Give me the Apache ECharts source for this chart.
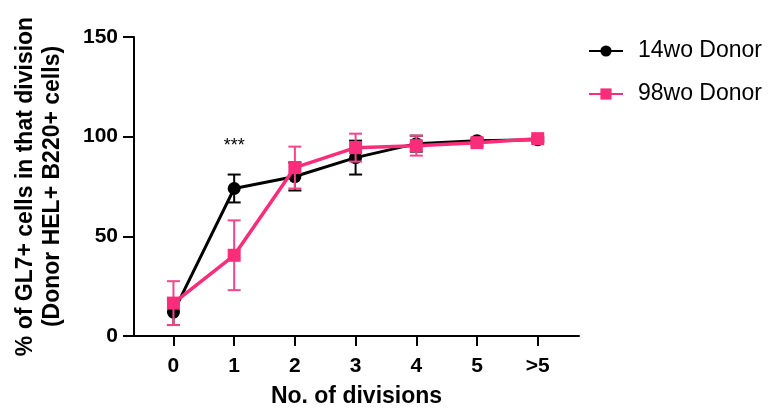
<!DOCTYPE html>
<html>
<head>
<meta charset="utf-8">
<script src="https://cdn.jsdelivr.net/npm/echarts@6/dist/echarts.min.js"></script>
<style>
  html, body { margin: 0; padding: 0; background: #fff; }
  #chart { width: 769px; height: 416px; }
</style>
</head>
<body>
<div id="chart"></div>
<script>
// tick labels on the x axis (number of divisions)
var categories = ['0', '1', '2', '3', '4', '5', '>5'];
// mean and error (SEM)
var donor14Mean = [12, 74, 80, 89.5, 96.5, 98, 98.5];
var donor14Err = [6.5, 7, 7, 8.5, 4, 1, 1];
var donor98Mean = [16.5, 40.5, 84.5, 94.5, 95.5, 97, 99];
var donor98Err = [11, 17.5, 10.5, 7, 5, 1.5, 1];
var yTicks = [0, 50, 100, 150];

var FONT = '"Liberation Sans", Arial, sans-serif';
var BLACK = '#000000';
var PINK = '#F92D79';
var PINK_ERR = '#F4458A';

function toPairs(values) {
    return values.map(function (v, i) { return [i, v]; });
}
function toErr(means, errs) {
    return means.map(function (m, i) { return [i, m - errs[i], m + errs[i]]; });
}

function errorBar(color) {
    return function (params, api) {
        var x = api.value(0);
        var lo = api.coord([x, api.value(1)]);
        var hi = api.coord([x, api.value(2)]);
        var half = 6.5;
        var style = { stroke: color, lineWidth: 2 };
        return {
            type: 'group',
            children: [
                { type: 'line', shape: { x1: lo[0], y1: lo[1], x2: hi[0], y2: hi[1] }, style: style },
                { type: 'line', shape: { x1: lo[0] - half, y1: lo[1], x2: lo[0] + half, y2: lo[1] }, style: style },
                { type: 'line', shape: { x1: hi[0] - half, y1: hi[1], x2: hi[0] + half, y2: hi[1] }, style: style }
            ]
        };
    };
}

var chart = echarts.init(document.getElementById('chart'), null, { renderer: 'canvas' });
chart.setOption({
    animation: false,
    backgroundColor: '#fff',
    textStyle: { fontFamily: FONT },
    grid: { left: 134, right: 190, top: 37, bottom: 80, containLabel: false },
    legend: {
        orient: 'vertical',
        left: 583,
        top: 34,
        itemWidth: 34,
        itemHeight: 14,
        itemGap: 19,
        data: ['14wo Donor', '98wo Donor'],
        textStyle: { fontFamily: FONT, fontSize: 23, color: '#000', padding: [0, 0, 0, 10], lineHeight: 24 }
    },
    xAxis: {
        type: 'value',
        min: -0.65,
        max: 6.68,
        name: 'No. of divisions',
        nameLocation: 'middle',
        nameGap: 49,
        nameTextStyle: { fontFamily: FONT, fontSize: 23, fontWeight: 'bold', color: '#000' },
        splitLine: { show: false },
        axisLine: { show: true, onZero: false, lineStyle: { color: '#000', width: 2 } },
        axisTick: {
            show: true,
            length: 10,
            customValues: categories.map(function (c, i) { return i; }),
            lineStyle: { color: '#000', width: 2 }
        },
        axisLabel: {
            margin: 20,
            customValues: categories.map(function (c, i) { return i; }),
            formatter: function (v) { return categories[Math.round(v)]; },
            fontFamily: FONT, fontSize: 21, fontWeight: 'bold', color: '#000'
        }
    },
    yAxis: {
        type: 'value',
        min: 0,
        max: 150,
        interval: 50,
        name: '% of GL7+ cells in that division\n(Donor HEL+ B220+ cells)',
        nameLocation: 'middle',
        nameGap: 68,
        nameTextStyle: { fontFamily: FONT, fontSize: 23, fontWeight: 'bold', color: '#000', lineHeight: 27 },
        splitLine: { show: false },
        axisLine: { show: true, onZero: false, lineStyle: { color: '#000', width: 2 } },
        axisTick: { show: true, length: 11, lineStyle: { color: '#000', width: 2 } },
        axisLabel: {
            margin: 16,
            customValues: yTicks,
            fontFamily: FONT, fontSize: 21, fontWeight: 'bold', color: '#000'
        }
    },
    series: [
        {
            name: '14wo Donor err',
            type: 'custom',
            renderItem: errorBar(BLACK),
            data: toErr(donor14Mean, donor14Err),
            encode: { x: 0, y: [1, 2] },
            z: 1,
            silent: true
        },
        {
            name: '14wo Donor',
            type: 'line',
            data: toPairs(donor14Mean),
            symbol: 'circle',
            symbolSize: 13,
            itemStyle: { color: BLACK },
            lineStyle: { color: BLACK, width: 3 },
            z: 2,
            markPoint: {
                symbol: 'circle',
                symbolSize: 1,
                itemStyle: { color: 'rgba(0,0,0,0)' },
                data: [{ coord: [1, 95.5], value: '***' }],
                label: { show: true, formatter: '***', color: '#000', fontSize: 18, fontFamily: FONT, position: 'inside' }
            }
        },
        {
            name: '98wo Donor err',
            type: 'custom',
            renderItem: errorBar(PINK_ERR),
            data: toErr(donor98Mean, donor98Err),
            encode: { x: 0, y: [1, 2] },
            z: 3,
            silent: true
        },
        {
            name: '98wo Donor',
            type: 'line',
            data: toPairs(donor98Mean),
            symbol: 'rect',
            symbolSize: 13,
            itemStyle: { color: PINK },
            lineStyle: { color: PINK, width: 3.5 },
            z: 4
        }
    ]
});
</script>
</body>
</html>
